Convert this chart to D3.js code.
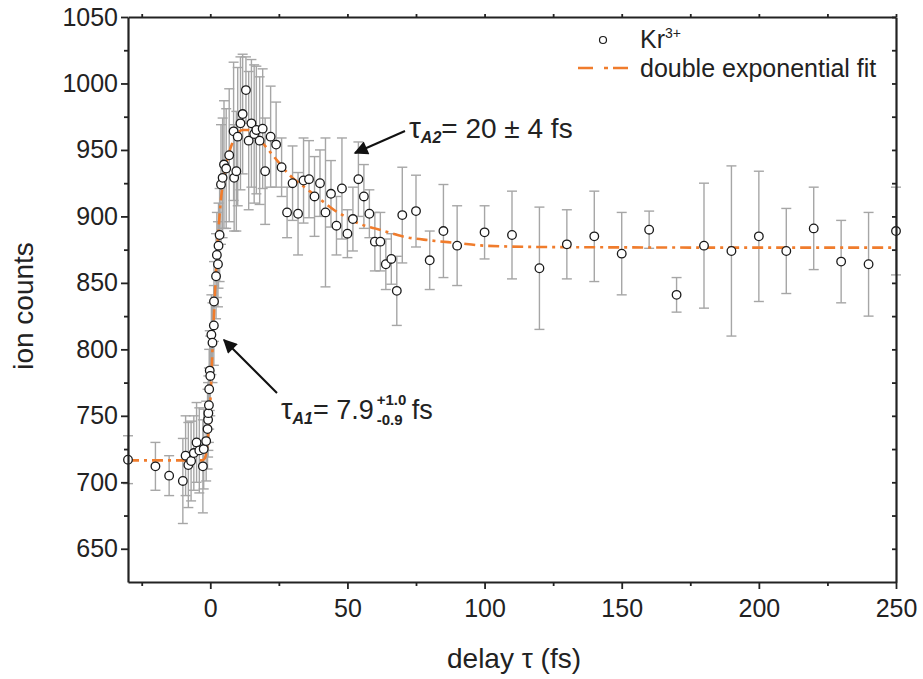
<!DOCTYPE html>
<html>
<head>
<meta charset="utf-8">
<script src="https://cdn.jsdelivr.net/npm/d3@7"></script>
<style>
  html, body { margin: 0; padding: 0; background: #fff; }
  svg text { font-family: "Liberation Sans", Arial, Helvetica, sans-serif; fill: #222; }
</style>
</head>
<body>
<svg id="chart" width="923" height="679"></svg>
<script>
// Kr3+ ion yield versus pump-probe delay
const delay = [
  -30, -20, -15, -10, -9, -8, -7, -6, -5, -4, -2.7, -2.4, -1.5, -1, -0.8, -0.7, -0.5, -0.4,
  -0.2, 0, 0.4, 0.8, 1.3, 1.35, 2.1, 2.4, 2.8, 3.0, 3.4, 3.9, 4.5, 5.0, 5.8, 6.9, 8.5, 8.7,
  9.5, 10, 11, 11.8, 13, 14, 15, 16, 16.8, 18, 19.1, 20, 22, 24, 26, 28, 30, 32, 34, 36,
  38, 40, 42, 44, 46, 48, 50, 52, 54, 56, 58, 60, 62, 64, 66, 68, 70, 75, 80, 85, 90, 100,
  110, 120, 130, 140, 150, 160, 170, 180, 190, 200, 210, 220, 230, 240, 250
];
const counts = [
  717, 712, 705, 701, 720, 713, 716, 722, 730, 724, 712, 725, 731, 740, 747, 752, 758, 770,
  784, 780, 811, 805, 818, 836, 855, 871, 864, 878, 886, 924, 929, 939, 936, 946, 964, 929,
  934, 960, 970, 977, 995, 957, 970, 962, 965, 957, 966, 934, 960, 954, 937, 903, 925, 902, 927, 928,
  915, 925, 903, 917, 893, 921, 887, 898, 928, 915, 902, 881, 881, 864, 868, 844, 901, 904, 867, 889,
  878, 888, 886, 861, 879, 885, 872, 890, 841, 878, 874, 885, 874, 891, 866, 864, 889
];
const errors = [
  18, 18, 15, 32, 30, 32, 30, 28, 30, 32, 35, 30, 30, 30, 28, 28, 28, 30,
  30, 30, 30, 30, 30, 30, 32, 32, 32, 32, 35, 45, 45, 48, 45, 50, 52, 40,
  45, 52, 50, 45, 25, 52, 48, 52, 48, 48, 45, 40, 38, 32, 22, 19, 28, 31, 32, 29,
  30, 25, 56, 25, 22, 38, 18, 24, 28, 24, 18, 22, 22, 19, 19, 26, 36, 27, 22, 35,
  30, 20, 33, 46, 26, 34, 31, 14, 13, 47, 64, 49, 32, 31, 31, 39, 33
];

// double exponential fit, sampled along the delay axis
const fitDelay = [-30, -3, -2, -1, 0, 1, 2, 3, 4, 5, 6, 7, 8, 9, 10, 12, 14, 16, 18, 20, 22, 24,
  26, 28, 30, 35, 40, 45, 50, 55, 60, 65, 70, 80, 90, 100, 120, 150, 200, 250];
const fitCounts = [716.5, 716.5, 718, 730, 760, 810, 855, 890, 915, 930, 941, 949, 955, 960, 963,
  965, 965, 962, 958, 953, 948, 943, 938, 933, 929, 921, 913, 905, 899, 894, 891, 888, 885, 882,
  880, 878, 877, 876.7, 876.5, 876.5];

const xTicks = [0, 50, 100, 150, 200, 250];
const xMinor = [-25, 25, 75, 125, 175, 225];
const yTicks = [650, 700, 750, 800, 850, 900, 950, 1000, 1050];
const yMinor = [675, 725, 775, 825, 875, 925, 975, 1025];

const svg = d3.select("#chart");
const L = 128, R = 896, T = 17, B = 582;
const x = d3.scaleLinear().domain([-30, 250]).range([L, R]);
const y = d3.scaleLinear().domain([625, 1050]).range([B, T]);

const fitColor = "#f07c2c";
const barColor = "#a6a6a6";

const pts = delay.map((t, i) => ({ t, v: counts[i], e: errors[i] }));

// error bars with caps
const bars = svg.append("g").attr("stroke", barColor).attr("stroke-width", 1.4).attr("fill", "none");
pts.forEach(p => {
  const cx = x(p.t), y1 = y(p.v + p.e), y2 = y(p.v - p.e);
  bars.append("line").attr("x1", cx).attr("x2", cx).attr("y1", y1).attr("y2", y2);
  bars.append("line").attr("x1", cx - 5).attr("x2", cx + 5).attr("y1", y1).attr("y2", y1);
  bars.append("line").attr("x1", cx - 5).attr("x2", cx + 5).attr("y1", y2).attr("y2", y2);
});

// fit curve
const fitLine = d3.line().x(d => x(d[0])).y(d => y(d[1])).curve(d3.curveMonotoneX);
svg.append("path")
  .datum(fitDelay.map((t, i) => [t, fitCounts[i]]))
  .attr("d", fitLine)
  .attr("fill", "none")
  .attr("stroke", fitColor)
  .attr("stroke-width", 2.6)
  .attr("stroke-dasharray", "11,5,3,5");

// data markers
svg.append("g").selectAll("circle").data(pts).join("circle")
  .attr("cx", d => x(d.t)).attr("cy", d => y(d.v)).attr("r", 4.3)
  .attr("fill", "#fff").attr("stroke", "#1a1a1a").attr("stroke-width", 1.3);

// axes
const axisColor = "#222";
const fontSize = 25;
const gx = svg.append("g").attr("transform", `translate(0,${B})`)
  .call(d3.axisBottom(x).tickValues(xTicks).tickSize(7).tickSizeOuter(0).tickPadding(10)
    .tickFormat(d3.format("d")));
const gxm = svg.append("g").attr("transform", `translate(0,${B})`)
  .call(d3.axisBottom(x).tickValues(xMinor).tickSize(4).tickFormat(""));
const gy = svg.append("g").attr("transform", `translate(${L},0)`)
  .call(d3.axisLeft(y).tickValues(yTicks).tickSize(7).tickSizeOuter(0).tickPadding(3)
    .tickFormat(d3.format("d")));
const gym = svg.append("g").attr("transform", `translate(${L},0)`)
  .call(d3.axisLeft(y).tickValues(yMinor).tickSize(4).tickFormat(""));
// mirrored top and right axes
const gt = svg.append("g").attr("transform", `translate(0,${T})`)
  .call(d3.axisTop(x).tickValues(xTicks.concat(xMinor)).tickSize(3).tickSizeOuter(0).tickFormat(""));
const gr = svg.append("g").attr("transform", `translate(${R},0)`)
  .call(d3.axisRight(y).tickValues(yTicks.concat(yMinor)).tickSize(-4).tickSizeOuter(0).tickFormat(""));

[gx, gxm, gy, gym, gt, gr].forEach(g => {
  g.select(".domain").attr("stroke", axisColor).attr("stroke-width", 2.2);
  g.selectAll(".tick line").attr("stroke", axisColor).attr("stroke-width", 1.8);
  g.selectAll(".tick text").attr("font-size", fontSize)
    .attr("font-family", "'Liberation Sans', Arial, sans-serif").attr("fill", "#222");
});
gxm.select(".domain").remove();
gym.select(".domain").remove();

// axis titles
svg.append("text").attr("x", (L + R) / 2 + 2).attr("y", 668).attr("text-anchor", "middle")
  .attr("font-size", 28).text("delay τ (fs)");
svg.append("text").attr("transform", `translate(33,306) rotate(-90)`)
  .attr("text-anchor", "middle").attr("font-size", 28).text("ion counts");

// legend
svg.append("circle").attr("cx", 603).attr("cy", 40).attr("r", 3.5)
  .attr("fill", "#fff").attr("stroke", "#1a1a1a").attr("stroke-width", 1.2);
const kr = svg.append("text").attr("x", 640).attr("y", 48).attr("font-size", 25);
kr.append("tspan").text("Kr");
kr.append("tspan").attr("dy", -10).attr("font-size", 14).text("3+");
svg.append("line").attr("x1", 578).attr("x2", 628).attr("y1", 68).attr("y2", 68)
  .attr("stroke", fitColor).attr("stroke-width", 2.6).attr("stroke-dasharray", "15,11,4,5");
svg.append("text").attr("x", 640).attr("y", 77).attr("font-size", 25).text("double exponential fit");

// annotations with arrows
const defs = svg.append("defs");
defs.append("marker").attr("id", "head").attr("viewBox", "0 0 10 10")
  .attr("refX", 9).attr("refY", 5).attr("markerWidth", 8).attr("markerHeight", 7)
  .attr("markerUnits", "strokeWidth").attr("orient", "auto")
  .append("path").attr("d", "M0,0 L10,5 L0,10 Z").attr("fill", "#111");

svg.append("line").attr("x1", 405).attr("y1", 131).attr("x2", 355).attr("y2", 153)
  .attr("stroke", "#111").attr("stroke-width", 2).attr("marker-end", "url(#head)");
const a2 = svg.append("text").attr("x", 409).attr("y", 138).attr("font-size", 28);
a2.append("tspan").attr("font-size", 30).text("τ");
a2.append("tspan").attr("dy", 5).attr("font-size", 16).attr("font-weight", "bold")
  .attr("font-style", "italic").text("A2");
a2.append("tspan").attr("dy", -5).text("= 20 ± 4 fs");

svg.append("line").attr("x1", 277).attr("y1", 393).attr("x2", 224).attr("y2", 340)
  .attr("stroke", "#111").attr("stroke-width", 2).attr("marker-end", "url(#head)");
const a1 = svg.append("text").attr("x", 281).attr("y", 419).attr("font-size", 27);
a1.append("tspan").attr("font-size", 29).text("τ");
a1.append("tspan").attr("dy", 5).attr("font-size", 16).attr("font-weight", "bold")
  .attr("font-style", "italic").text("A1");
a1.append("tspan").attr("dy", -5).text("= 7.9");
const a1End = 281 + a1.node().getComputedTextLength();
svg.append("text").attr("x", a1End + 3).attr("y", 405).attr("font-size", 15)
  .attr("font-weight", "bold").text("+1.0");
svg.append("text").attr("x", a1End + 3).attr("y", 425).attr("font-size", 15)
  .attr("font-weight", "bold").text("-0.9");
svg.append("text").attr("x", a1End + 38).attr("y", 419).attr("font-size", 27).text("fs");
</script>
</body>
</html>
